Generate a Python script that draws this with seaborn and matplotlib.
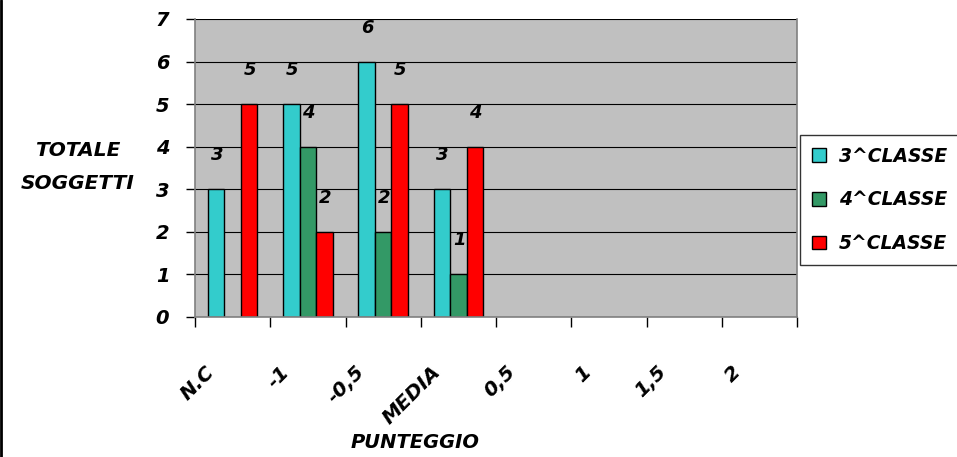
import numpy as np
import pandas as pd
import matplotlib
matplotlib.use("Agg")
import matplotlib.pyplot as plt
import seaborn as sns
from matplotlib.patches import Patch
from matplotlib.lines import Line2D

categories = ["N.C", "-1", "-0,5", "MEDIA", "0,5", "1", "1,5", "2"]
series_names = ["3^CLASSE", "4^CLASSE", "5^CLASSE"]
classe3 = [3, 5, 6, 3, np.nan, np.nan, np.nan, np.nan]
classe4 = [np.nan, 4, 2, 1, np.nan, np.nan, np.nan, np.nan]
classe5 = [5, 2, 5, 4, np.nan, np.nan, np.nan, np.nan]
y_ticks = [0, 1, 2, 3, 4, 5, 6, 7]
colors = ["#33CCCC", "#339966", "#FF0000"]

rows = []
for name, vals in zip(series_names, [classe3, classe4, classe5]):
    for c, v in zip(categories, vals):
        rows.append({"cat": c, "serie": name, "val": v})
df = pd.DataFrame(rows)

sns.set_theme(style="white")
FONT = "DejaVu Sans"
plt.rcParams["font.family"] = [FONT]
plt.rcParams["text.color"] = "black"
plt.rcParams["xtick.color"] = "black"
plt.rcParams["ytick.color"] = "black"
plt.rcParams["axes.labelcolor"] = "black"
fp = dict(fontweight="bold", fontstyle="italic", color="black")

fig = plt.figure(figsize=(9.57, 4.57), dpi=100)
ax = fig.add_axes([195/957, 1-317/457, (797-195)/957, (317-19)/457])
ax.set_facecolor("#C0C0C0")

sns.barplot(data=df, x="cat", y="val", hue="serie", order=categories,
            hue_order=series_names, palette=colors, width=0.66,
            edgecolor="black", linewidth=1.0, errorbar=None, ax=ax,
            legend=False, saturation=1)

ax.set_ylim(0, 7)
ax.set_xlim(-0.5, len(categories) - 0.5)
ax.set_yticks(y_ticks)
ax.set_yticklabels([str(t) for t in y_ticks], fontsize=14, **fp)
ax.yaxis.grid(True, color="black", linewidth=0.8)
ax.set_axisbelow(True)
ax.spines["top"].set_visible(False)
for s in ["left", "bottom", "right"]:
    ax.spines[s].set_color("#808080")
    ax.spines[s].set_linewidth(1.2)
ax.tick_params(axis="y", length=6.5, width=1, color="black", direction="out", left=True, pad=12)

# x ticks at category boundaries, labels placed near centers
ax.set_xticks(np.arange(len(categories) + 1) - 0.5, minor=False)
ax.set_xticklabels([""] * (len(categories) + 1))
ax.tick_params(axis="x", length=7, width=1, color="black", direction="out", bottom=True)
for i, c in enumerate(categories):
    ax.text(i - 0.28, -1.22, c, rotation=45, rotation_mode="anchor", ha="right", va="center",
            fontsize=14.5, **fp, transform=ax.transData, clip_on=False)

for cont in ax.containers:
    for bar in cont:
        h = bar.get_height()
        if np.isfinite(h) and h > 0:
            ax.text(bar.get_x() + bar.get_width() / 2 + 0.01, h + 0.8, f"{h:g}",
                    ha="center", va="center", fontsize=13, **fp)

ax.set_xlabel("")
ax.set_ylabel("")
fig.text(78/957, 1-167/457, "TOTALE\nSOGGETTI", ha="center", va="center",
         fontsize=14.5, linespacing=1.9, **fp)
fig.text(415/957, 1-442/457, "PUNTEGGIO", ha="center", va="center", fontsize=14, **fp)

handles = [Patch(facecolor=col, edgecolor="black", label=n) for col, n in zip(colors, series_names)]
leg = fig.legend(handles=handles, loc="upper left", bbox_to_anchor=(800/957, 1-135/457),
                 frameon=True, fancybox=False, edgecolor="black",
                 handlelength=0.75, handleheight=0.75, labelspacing=1.32, borderpad=0.62,
                 handletextpad=0.7, borderaxespad=0,
                 prop=dict(family=FONT, weight="bold", style="italic", size=13.5))
leg.get_frame().set_linewidth(1.0)
for t in leg.get_texts():
    t.set_color("black")

fig.add_artist(Line2D([0.001, 0.001], [0, 1], color="black", linewidth=2, transform=fig.transFigure))

fig.savefig("out.png", dpi=100)
